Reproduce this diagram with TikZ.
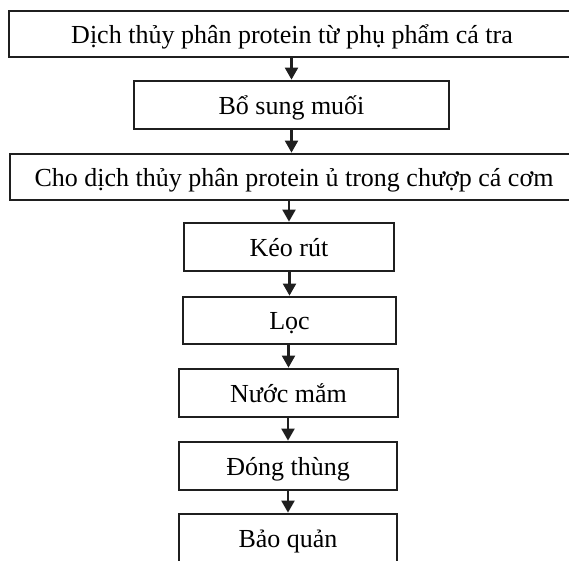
\documentclass[tikz,border=0pt]{standalone}
\usepackage{fontspec}
\setmainfont{Liberation Serif}
\usetikzlibrary{arrows.meta}
\begin{document}
\begin{tikzpicture}[x=1pt,y=-1pt,
  box/.style={draw=black!88, line width=2.8pt, inner sep=0pt, text height=24pt, text depth=6pt,
    font=\fontsize{26}{30}\selectfont},
  arr/.style={draw=black!88, line width=2.2pt, -{Triangle[length=12pt,width=13pt]}}]
\useasboundingbox (0,0) rectangle (569,560);
\clip (0,0) rectangle (569,560);
\node[box, minimum width=566pt, minimum height=46pt] (b1) at (292,34) {Dịch thủy phân protein từ phụ phẩm cá tra};
\node[box, minimum width=315pt, minimum height=48pt] (b2) at (291.5,105) {Bổ sung muối};
\node[box, minimum width=568pt, minimum height=46pt] (b3) at (294,177) {Cho dịch thủy phân protein ủ trong chượp cá cơm};
\node[box, minimum width=210pt, minimum height=48pt] (b4) at (289,247) {Kéo rút};
\node[box, minimum width=213pt, minimum height=47pt] (b5) at (289.5,320.5) {Lọc};
\node[box, minimum width=219pt, minimum height=48pt] (b6) at (288.5,393) {Nước mắm};
\node[box, minimum width=218pt, minimum height=48pt] (b7) at (288,466) {Đóng thùng};
\node[box, minimum width=218pt, minimum height=48pt] (b8) at (288,538) {Bảo quản};
\draw[arr] (b1.south -| b2.north) -- (b2.north);
\draw[arr] (b2.south) -- (b2.south |- b3.north);
\draw[arr] (b3.south -| b4.north) -- (b4.north);
\draw[arr] (b4.south -| b5.north) -- (b5.north);
\draw[arr] (b5.south -| b6.north) -- (b6.north);
\draw[arr] (b6.south -| b7.north) -- (b7.north);
\draw[arr] (b7.south -| b8.north) -- (b8.north);
\end{tikzpicture}
\end{document}
